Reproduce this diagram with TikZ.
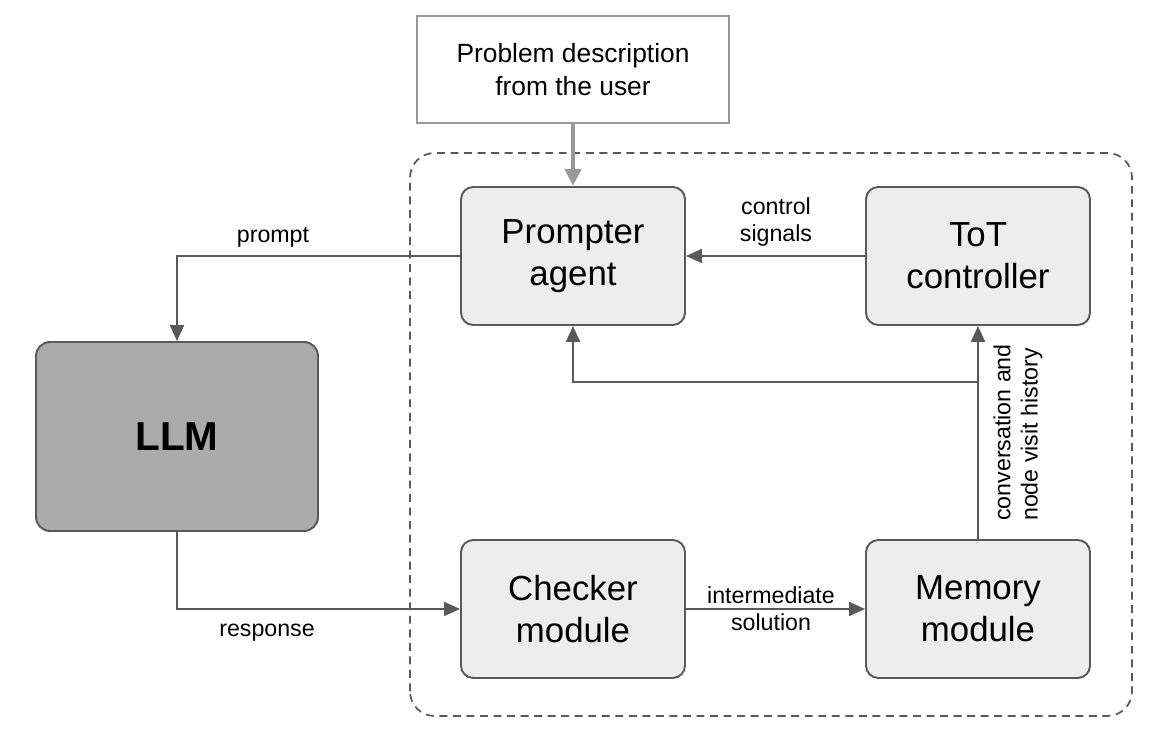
\documentclass[tikz,border=0pt]{standalone}
\usepackage{fontspec}
\setmainfont{Liberation Sans}
\usepackage{tikz}
\usetikzlibrary{arrows.meta, positioning, calc}
\definecolor{cLine}{HTML}{595959}
\definecolor{cFrame}{HTML}{999999}
\definecolor{cBox}{HTML}{EDEDED}
\definecolor{cLLM}{HTML}{ABABAB}
\tikzset{
	module/.style  ={rectangle, rounded corners=7pt, draw=cLine, line width=1.1pt, fill=cBox, minimum width=4.48cm, minimum height=2.76cm, align=center, font=\fontsize{19.8}{24}\selectfont},
	llmbox/.style  ={rectangle, rounded corners=8pt, draw=cLine, line width=1.1pt, fill=cLLM, minimum width=5.64cm, minimum height=3.78cm, align=center, font=\fontsize{23}{27}\selectfont\bfseries},
	userbox/.style ={rectangle, draw=cFrame, line width=1.1pt, fill=white, minimum width=6.24cm, minimum height=2.14cm, align=center, font=\fontsize{15}{18.5}\selectfont},
	lbl/.style     ={align=center, font=\fontsize{13.2}{15.5}\selectfont},
	link/.style    ={-{Triangle[length=3.2mm, width=2.8mm]}, draw=cLine, line width=1.2pt},
	inlink/.style  ={-{Triangle[length=3.4mm, width=3.2mm]}, draw=cFrame, line width=2.4pt},
}
\begin{document}
\begin{tikzpicture}
	\useasboundingbox (0,0) rectangle (23.34,14.64);
	% agent frame
	\draw[cLine, line width=1pt, dash pattern=on 4.5pt off 3.2pt, rounded corners=14pt] (8.2,0.32) rectangle (22.64,11.58);
	% blocks
	\node[userbox] (user) at (11.46,13.25) {Problem description\\from the user};
	\node[module] (prompter) at (11.46,9.52) {Prompter\\agent};
	\node[module] (tot) at (19.56,9.52) {ToT\\controller};
	\node[module] (checker) at (11.46,2.46) {Checker\\module};
	\node[module] (memory) at (19.56,2.46) {Memory\\module};
	\node[llmbox] (llm) at (3.54,5.91) {LLM};
	\coordinate (split) at (memory.north |- 0,7.0);
	% connectors
	\draw[inlink] (user) -- (prompter);
	\draw[link] (prompter.west) -| (llm.north);
	\draw[link] (llm.south) |- (checker.west);
	\draw[link] (tot) -- (prompter);
	\draw[link] (checker) -- (memory);
	\draw[link] (memory) -- (tot);
	\draw[link] (split) -| (prompter.south);
	% labels
	\node[lbl] (lprompt) at (5.46,9.9) {prompt};
	\node[lbl] (lresp) at (5.34,1.98) {response};
	\node[lbl] (lctrl) at (15.52,10.2) {control\\signals};
	\node[lbl] (lsol) at (15.42,2.46) {intermediate\\solution};
	\node[lbl, align=left, rotate=90] (lhist) at (20.36,5.99) {conversation and\\node visit history};
\end{tikzpicture}
\end{document}
